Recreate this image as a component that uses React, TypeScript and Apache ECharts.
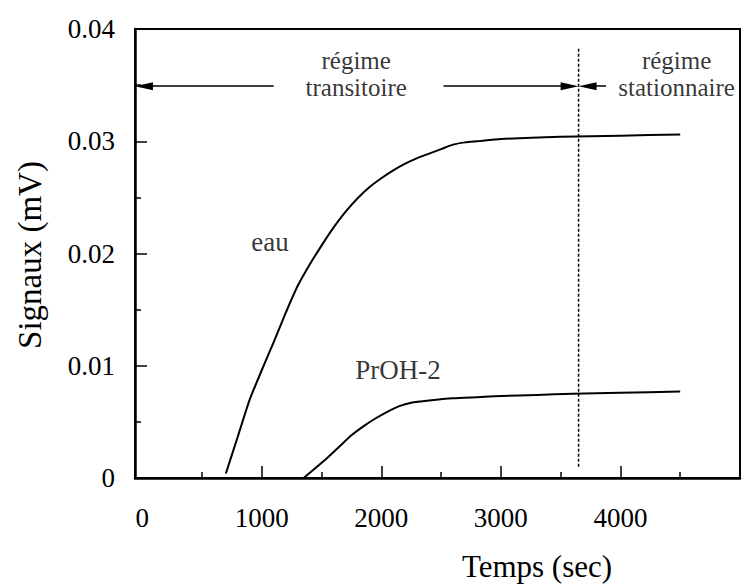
import React, { useEffect, useRef } from "react";
import * as echarts from "echarts";

const FONT = '"Liberation Serif", "Times New Roman", serif';

// data (time in s, signal in mV)
const eauData: [number, number][] = [
  [700, 0.0004], [800, 0.0037], [900, 0.007], [1000, 0.0096], [1100, 0.0121],
  [1200, 0.0147], [1300, 0.0171], [1400, 0.019], [1500, 0.0207], [1600, 0.0223],
  [1700, 0.0237], [1800, 0.0249], [1900, 0.0259], [2000, 0.0267], [2100, 0.0274],
  [2200, 0.028], [2300, 0.0285], [2400, 0.0289], [2500, 0.0293], [2600, 0.0297],
  [2700, 0.0299], [2800, 0.03], [3000, 0.0302], [3500, 0.0304], [4000, 0.0305],
  [4500, 0.0306],
];
const prohData: [number, number][] = [
  [1350, 0.0], [1450, 0.0009], [1550, 0.0018], [1650, 0.0028], [1750, 0.0038],
  [1850, 0.0046], [1950, 0.0053], [2050, 0.0059], [2150, 0.0064], [2250, 0.0067],
  [2400, 0.0069], [2600, 0.0071], [2800, 0.0072], [3000, 0.0073], [3300, 0.0074],
  [3600, 0.0075], [4000, 0.0076], [4500, 0.0077],
];
const boundaryLine: [number, number][] = [[3650, 0.001], [3650, 0.0384]];
const arrowsData: [number, number, number, number][] = [
  // x1, y1 -> x2, y2 (arrow head centred at x2,y2)
  [1100, 0.0349, 15, 0.0349],
  [2520, 0.0349, 3575, 0.0349],
  [3880, 0.0349, 3725, 0.0349],
];
const regimeLabels = [
  { name: "régime\ntransitoire", x: 1790, y: 0.036 },
  { name: "régime\nstationnaire", x: 4470, y: 0.036 },
];
const curveLabels = [
  { name: "eau", x: 1070, y: 0.021 },
  { name: "PrOH-2", x: 2140, y: 0.0096 },
];
const xMajorTicks = [1000, 2000, 3000, 4000];
const xMinorTicks = [500, 1500, 2500, 3500, 4500];
const xTickLabels = [0, 1000, 2000, 3000, 4000];
const xMin = -60;
const xMax = 5000;

const ARROW = "path://M5,0 L10,20 L0,20 Z";

export default function App() {
  const ref = useRef<HTMLDivElement>(null);
  useEffect(() => {
    if (!ref.current) return;
    const chart = echarts.init(ref.current, null, { renderer: "svg" });
    const black = "#000";
    const textSeries = (items: { name: string; x: number; y: number }[], fontSize: number, lineHeight: number) => ({
      type: "scatter",
      symbolSize: 0,
      data: items.map((a) => ({ name: a.name, value: [a.x, a.y] })),
      label: {
        show: true,
        position: "inside",
        formatter: (p: any) => p.name,
        color: black,
        fontFamily: FONT,
        fontSize,
        lineHeight,
        align: "center",
      },
      z: 4,
    });
    chart.setOption({
      animation: false,
      backgroundColor: "#fff",
      grid: {
        left: 135,
        right: 2,
        top: 29,
        bottom: 106,
        show: true,
        borderColor: black,
        borderWidth: 2,
      },
      xAxis: [
        {
          type: "value",
          min: xMin,
          max: xMax,
          splitLine: { show: false },
          axisLine: { show: true, onZero: false, lineStyle: { color: black, width: 2.5 } },
          axisTick: {
            show: true,
            inside: true,
            length: 12,
            customValues: xMajorTicks,
            lineStyle: { color: black, width: 1.5 },
          },
          axisLabel: {
            show: true,
            customValues: xTickLabels,
            margin: 26,
            color: black,
            fontFamily: FONT,
            fontSize: 27,
            formatter: (v: number) => String(Math.round(v)),
          },
        },
        {
          type: "value",
          min: xMin,
          max: xMax,
          position: "bottom",
          splitLine: { show: false },
          axisLine: { show: false },
          axisTick: {
            show: true,
            inside: true,
            length: 6,
            customValues: xMinorTicks,
            lineStyle: { color: black, width: 1.5 },
          },
          axisLabel: { show: false },
        },
      ],
      yAxis: {
        type: "value",
        min: 0,
        max: 0.04,
        interval: 0.01,
        splitLine: { show: false },
        axisLine: { show: true, onZero: false, lineStyle: { color: black, width: 2.5 } },
        axisTick: { show: true, inside: true, length: 12, lineStyle: { color: black, width: 1.5 } },
        minorTick: { show: true, splitNumber: 2, length: 6, lineStyle: { color: black, width: 1.5 } },
        axisLabel: {
          margin: 20,
          color: black,
          fontFamily: FONT,
          fontSize: 27,
          formatter: (v: number) => (v === 0 ? "0" : v.toFixed(2)),
        },
      },
      series: [
        {
          type: "line",
          data: eauData,
          symbol: "none",
          smooth: 0.2,
          lineStyle: { color: black, width: 2 },
          z: 3,
        },
        {
          type: "line",
          data: prohData,
          symbol: "none",
          smooth: 0.2,
          lineStyle: { color: black, width: 2 },
          z: 3,
        },
        {
          type: "line",
          data: boundaryLine,
          symbol: "none",
          lineStyle: { color: black, width: 1.5, type: [3, 2] },
          z: 2,
        },
        {
          type: "line",
          data: [],
          symbol: "none",
          markLine: {
            silent: true,
            symbol: ["none", ARROW],
            symbolSize: [8, 18],
            label: { show: false },
            lineStyle: { color: black, width: 1.5, type: "solid" },
            data: arrowsData.map((a) => [
              { coord: [a[0], a[1]] },
              { coord: [a[2], a[3]] },
            ]),
          },
        },
        textSeries(regimeLabels, 25, 27),
        textSeries(curveLabels, 27, 30),
      ],
      graphic: [
        {
          type: "text",
          x: 537,
          y: 566,
          style: {
            text: "Temps (sec)",
            fontFamily: FONT,
            fontSize: 31,
            fill: black,
            textAlign: "center",
            textVerticalAlign: "middle",
          },
        },
        {
          type: "text",
          x: 30,
          y: 255,
          rotation: Math.PI / 2,
          style: {
            text: "Signaux (mV)",
            fontFamily: FONT,
            fontSize: 33,
            fill: black,
            textAlign: "center",
            textVerticalAlign: "middle",
          },
        },
      ],
    });
    return () => chart.dispose();
  }, []);
  return (
    <div
      ref={ref}
      style={{ width: 742, height: 584, position: "absolute", left: 0, top: 0 }}
    />
  );
}
